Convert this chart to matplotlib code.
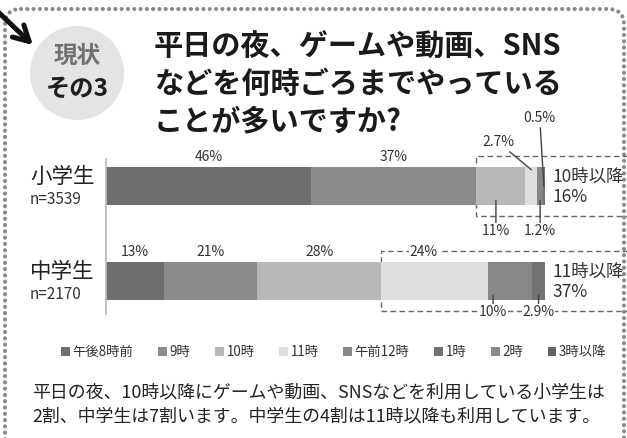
import numpy as np
import matplotlib
matplotlib.use("Agg")
from matplotlib import pyplot as plt
from matplotlib.patches import Circle, FancyBboxPatch

plt.rcParams['font.family'] = ['Noto Sans CJK JP', 'DejaVu Sans']

groups = ['小学生', '中学生']
sizes = ['n=3539', 'n=2170']
times = ['午後8時前', '9時', '10時', '11時', '午前12時', '1時', '2時', '3時以降']
elem = [46, 37, 11, 2.7, 1.2, 0.5, 0, 0]
junior = [13, 21, 28, 24, 10, 2.9, 0, 0]
late_label = ['10時以降', '11時以降']
late_share = [16, 37]
late_from = [2, 3]      # first slot inside the dashed box
colors = ['#6e6e6e', '#8b8b8b', '#b8b8b8', '#dedede', '#878787', '#727272', '#8a8a8a', '#626262']

title = ['平日の夜、ゲームや動画、SNS', 'などを何時ごろまでやっている', 'ことが多いですか?']
note = ['平日の夜、10時以降にゲームや動画、SNSなどを利用している小学生は',
        '2割、中学生は7割います。中学生の4割は11時以降も利用しています。']

# where each % label goes: ('up', frac) / ('down', frac) / (dx, dy) offset in points
place = {(0, 0): ('up', .5), (0, 1): ('up', .5), (0, 2): ('down', .4), (0, 3): (-24, 20),
         (0, 4): ('down', .5), (0, 5): (-3, 49),
         (1, 0): ('up', .5), (1, 1): ('up', .5), (1, 2): ('up', .5), (1, 3): ('up', .4),
         (1, 4): ('down', .12), (1, 5): ('down', .5)}

fig = plt.figure(figsize=(6.27, 4.38), dpi=100)

# background layer in pixel coords
bg = fig.add_axes([0, 0, 1, 1])
bg.set_xlim(0, 627)
bg.set_ylim(438, 0)
bg.axis('off')

frame = FancyBboxPatch((5, 9), 619, 470, boxstyle='round,pad=0,rounding_size=16', fill=False,
                       ec='#8a8a8a', lw=3, ls=(0, (0.01, 1.5)), capstyle='round', clip_on=False)
bg.add_patch(frame)

bg.annotate('', xy=(35, 47), xytext=(-4, 10),
            arrowprops=dict(arrowstyle='->,head_length=1.1,head_width=0.6', lw=3.6, color='#111'))

# badge
bg.add_patch(Circle((77, 73), 47, fc='#e4e4e4', ec='none'))
inner = Circle((77, 73), 42, fc='none', ec='none')
bg.add_patch(inner)
gy, gx = np.mgrid[-1:1:200j, -1:1:200j]
grad = 0.67 - 0.07 * gy - 0.08 * (gx ** 2 + gy ** 2)
im = bg.imshow(grad, cmap='gray', vmin=0, vmax=1, extent=(35, 119, 115, 31), interpolation='bilinear')
im.set_clip_path(inner)
bg.set_aspect('auto')
bg.set_xlim(0, 627)
bg.set_ylim(438, 0)
bg.text(77, 56, '現状', fontsize=17, weight='bold', color='#707070', ha='center', va='center')
bg.text(77, 89, 'その3', fontsize=17.5, weight='bold', color='#1e1e1e', ha='center', va='center')

for i, line in enumerate(title):
    bg.text(154, 47 + 37 * i, line, fontsize=21, weight='bold', color='#1a1a1a', va='center')

for i, line in enumerate(note):
    bg.text(32, 392 + 24 * i, line, fontsize=12.9, color='#222', va='center')

# bars
ax = fig.add_axes([106 / 627, 1 - 330 / 438, 439 / 627, 190 / 438])
ax.set_xlim(0, 100)
ax.set_ylim(1.516, -0.484)
ax.axis('off')

rows = np.arange(len(groups))
raw = np.array([elem, junior], float)
shares = raw / raw.sum(axis=1, keepdims=True) * 100
lefts = np.cumsum(shares, axis=1) - shares

handles = []
for j, t in enumerate(times):
    b = ax.barh(rows, shares[:, j], left=lefts[:, j], height=0.4, color=colors[j], lw=0, label=t)
    handles.append(b)

ax.plot([0, 0], [-0.28, 1.35], color='#bdbdbd', lw=1.3, clip_on=False)

white = dict(fc='white', ec='none', pad=0.6)
lead = dict(arrowstyle='-', color='#444', lw=1, shrinkA=0, shrinkB=0)
for (r, j), how in place.items():
    lbl = f'{raw[r, j]:g}%'
    if how[0] == 'up':
        cx = lefts[r, j] + shares[r, j] * how[1]
        ax.text(cx, r - 0.31, lbl, ha='center', va='center', fontsize=10, color='#333', bbox=white)
    elif how[0] == 'down':
        cx = lefts[r, j] + shares[r, j] * how[1]
        dy = 0.47 if r == 0 else 0.33
        ax.annotate(lbl, xy=(cx, r + 0.15), xytext=(cx, r + dy), ha='center', va='center',
                    fontsize=10, color='#333', bbox=white, arrowprops=lead)
    else:
        cx = lefts[r, j] + shares[r, j] / 2
        ax.annotate(lbl, xy=(cx, r - 0.17 if j == 3 else r), xytext=how, textcoords='offset points',
                    ha='center', va='center', fontsize=10, color='#333', arrowprops=lead)

for r in rows:
    x0 = lefts[r, late_from[r]]
    ax.plot([125, x0, x0, 125], [r - 0.32, r - 0.32, r + 0.32, r + 0.32], ls=(0, (4, 2.5)),
            color='#666', lw=1, clip_on=False, zorder=0.5)
    ax.text(101.8, r + 0.01, f'{late_label[r]}\n{late_share[r]}%', ha='left', va='center',
            fontsize=12.5, color='#333', linespacing=1.1)
    ax.text(-17.3, r - 0.09, groups[r], ha='left', va='center', fontsize=15.5, color='#222')
    ax.text(-17.3, r + 0.14, sizes[r], ha='left', va='center', fontsize=11, color='#333')

ax.legend(handles=handles, loc='center', bbox_to_anchor=(334 / 627, 1 - 352 / 438),
          bbox_transform=fig.transFigure, ncol=8, frameon=False, fontsize=9.6,
          handlelength=0.65, handleheight=0.65, handletextpad=0.2, columnspacing=1.85,
          labelcolor='#333')

fig.savefig('out.png', dpi=100)
